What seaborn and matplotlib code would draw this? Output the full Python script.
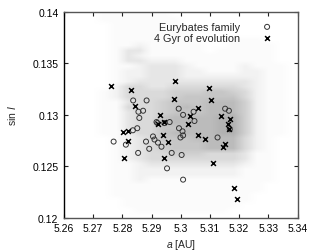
import numpy as np
import matplotlib
matplotlib.use("Agg")
import matplotlib.pyplot as plt
from matplotlib.colors import LinearSegmentedColormap
import seaborn as sns

# Eurybates family members (open circles)
fam_a = [5.2837, 5.2883, 5.2993, 5.2871, 5.2855, 5.3044, 5.3152, 5.3165,
         5.2858, 5.3008, 5.2917, 5.2962, 5.2944, 5.3047, 5.2851, 5.2836,
         5.2994, 5.3006, 5.3168, 5.2905, 5.2910, 5.3008, 5.2999, 5.2770,
         5.2812, 5.2881, 5.2922, 5.2934, 5.3126, 5.2892, 5.2854, 5.2969,
         5.3003, 5.2953, 5.3008, 5.2920]
fam_sini = [0.1314, 0.1314, 0.1306, 0.1304, 0.1303, 0.1303, 0.1306, 0.1304,
            0.1297, 0.1300, 0.1293, 0.1293, 0.1292, 0.1294, 0.1287, 0.1285,
            0.1287, 0.1284, 0.1286, 0.1279, 0.1276, 0.1280, 0.1278, 0.1274,
            0.1271, 0.1274, 0.1273, 0.1269, 0.1278, 0.1267, 0.1263, 0.1263,
            0.1261, 0.1248, 0.1237, 0.1292]

# same bodies after 4 Gyr (crosses)
evo_a = [5.2762, 5.2828, 5.2979, 5.3097, 5.2978, 5.3103, 5.2844, 5.3058,
         5.2930, 5.3031, 5.3137, 5.3170, 5.2942, 5.2921, 5.3026, 5.3161,
         5.3165, 5.2802, 5.2820, 5.2940, 5.3058, 5.3083, 5.2820, 5.2957,
         5.3153, 5.3145, 5.2804, 5.2942, 5.3109, 5.3182, 5.3193]
evo_sini = [0.1328, 0.1324, 0.1333, 0.1326, 0.1315, 0.1314, 0.1309, 0.1307,
            0.1300, 0.1299, 0.1299, 0.1296, 0.1293, 0.1291, 0.1291, 0.1291,
            0.1286, 0.1283, 0.1284, 0.1280, 0.1280, 0.1277, 0.1275, 0.1274,
            0.1272, 0.1269, 0.1258, 0.1258, 0.1253, 0.1229, 0.1218]

# density of the background test particles, read off as levels 0-9
# columns: a = 5.260..5.340 in 0.004 steps, rows: sin I = 0.140..0.120 in 0.0005 steps
cloud_rows = [
    "00011111100000000000",
    "00011111110000000000",
    "00001111110000000000",
    "00001111111000000000",
    "00001111111000000000",
    "00001111111000111000",
    "00001121111100111100",
    "00001331111101111100",
    "00001321111111111100",
    "00001332221111111100",
    "00001123332111121110",
    "00001223332211122110",
    "00001223332222222110",
    "00001233333333332110",
    "00002443344444432110",
    "00012444455566542110",
    "00012444456666642110",
    "00011344566677752110",
    "00011444567677752110",
    "00011344566677752110",
    "00011344677778852110",
    "00011344677778852110",
    "00011344667778852110",
    "00011244677778852110",
    "00001234666777742100",
    "00001234566677742100",
    "00001234566677742100",
    "00001234455544431100",
    "00001234444444431100",
    "00001123333333321100",
    "00001122222222211100",
    "00001122222222211100",
    "00001121111111111100",
    "00001111111111111000",
    "00001111111111111000",
    "00001111111111110000",
    "00000111111111110000",
    "00000111111111100000",
    "00000011111111000000",
    "00000000000000000000",
]
# grey shade for each density level
level_greys = ["#ffffff", "#fbfbfb", "#f2f2f2", "#e6e6e6", "#dadada",
               "#d0d0d0", "#c6c6c6", "#bcbcbc", "#b2b2b2", "#aaaaaa"]

x_ticks = [5.26, 5.27, 5.28, 5.29, 5.30, 5.31, 5.32, 5.33, 5.34]
x_labels = ["5.26", "5.27", "5.28", "5.29", "5.3", "5.31", "5.32", "5.33", "5.34"]
y_ticks = [0.12, 0.125, 0.13, 0.135, 0.14]
y_labels = ["0.12", "0.125", "0.13", "0.135", "0.14"]

sns.set_style("ticks")
plt.rcParams["font.family"] = ["Liberation Sans", "DejaVu Sans"]
plt.rcParams["mathtext.fontset"] = "custom"
plt.rcParams["mathtext.rm"] = "Liberation Sans"
plt.rcParams["mathtext.it"] = "Liberation Sans:italic"

fig = plt.figure(figsize=(3.16, 2.53), dpi=100)
ax = fig.add_axes([0.2025, 0.1356, 0.7390, 0.8130])

density = np.array([[int(c) for c in row] for row in cloud_rows], dtype=float)
cloud_cmap = LinearSegmentedColormap.from_list("cloud", level_greys)
ax.imshow(density, cmap=cloud_cmap, vmin=0, vmax=9, origin="upper",
          extent=[5.26, 5.34, 0.12, 0.14], aspect="auto",
          interpolation="bilinear", zorder=0)

sns.scatterplot(x=fam_a, y=fam_sini, ax=ax, marker="o", s=13,
                facecolor="none", edgecolor="#333333", linewidth=0.7,
                label="Eurybates family", zorder=3)
sns.scatterplot(x=evo_a, y=evo_sini, ax=ax, marker="x", s=12,
                color="black", linewidth=1.1,
                label="4 Gyr of evolution", zorder=4)

ax.set_xlim(5.26, 5.34)
ax.set_ylim(0.12, 0.14)
ax.set_xticks(x_ticks)
ax.set_xticklabels(x_labels)
ax.set_yticks(y_ticks)
ax.set_yticklabels(y_labels)
ax.tick_params(direction="in", top=True, right=True, length=3, width=0.8,
               labelsize=7.5, pad=4, colors="#222222", labelcolor="black")
for sp in ax.spines.values():
    sp.set_color("#555555")
    sp.set_linewidth(1.0)
ax.spines["left"].set_color("black")

ax.set_xlabel("$a$ [AU]", fontsize=7.5, labelpad=3)
ax.set_ylabel("sin $I$", fontsize=7.5, labelpad=10)

ax.legend(loc="upper right", bbox_to_anchor=(0.93, 0.995), frameon=False,
          markerfirst=False, fontsize=7.8, handlelength=1.0,
          handletextpad=1.95, labelspacing=0.15, borderpad=0.3)

fig.savefig("out.png", dpi=100)
